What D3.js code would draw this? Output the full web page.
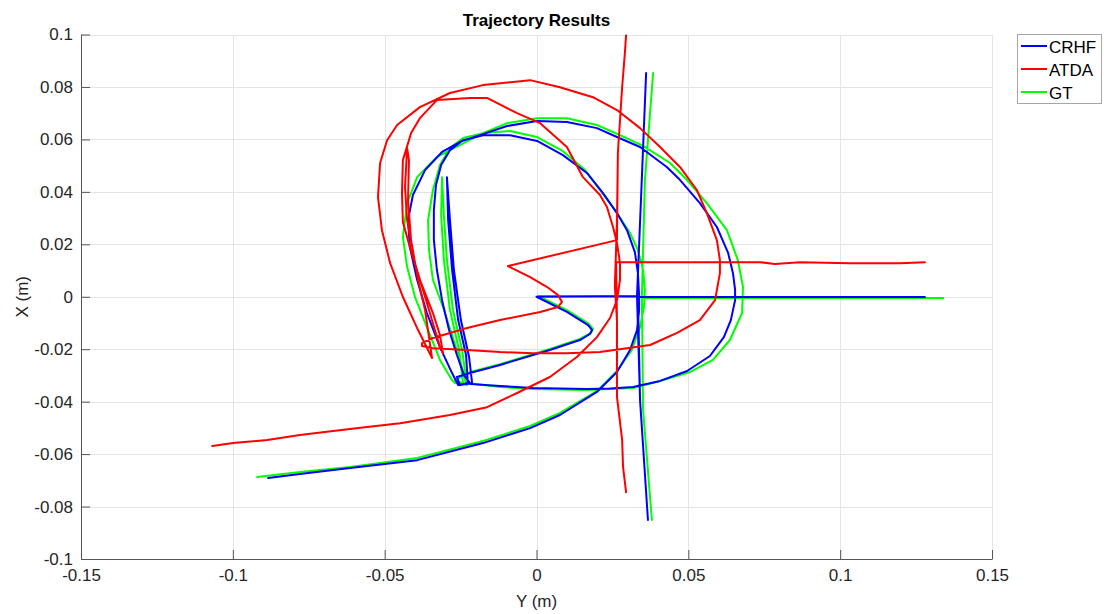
<!DOCTYPE html>
<html>
<head>
<meta charset="utf-8">
<script src="https://cdn.jsdelivr.net/npm/d3@7"></script>
<style>
  html, body { margin: 0; padding: 0; background: #fff; }
  svg { display: block; font-family: "Liberation Sans", Arial, Helvetica, sans-serif; }
</style>
</head>
<body>
<svg id="chart" width="1104" height="614"></svg>
<script>
// ---- data: points are [Y (m), X (m)] ----
const xTickValues = [-0.15, -0.1, -0.05, 0, 0.05, 0.1, 0.15];
const xTickLabels = ["-0.15", "-0.1", "-0.05", "0", "0.05", "0.1", "0.15"];
const yTickValues = [-0.1, -0.08, -0.06, -0.04, -0.02, 0, 0.02, 0.04, 0.06, 0.08, 0.1];
const yTickLabels = ["-0.1", "-0.08", "-0.06", "-0.04", "-0.02", "0", "0.02", "0.04", "0.06", "0.08", "0.1"];
const seriesNames = ["CRHF", "ATDA", "GT"];
const seriesColors = ["#0000ff", "#ff0000", "#00ff00"];

const crhf = [
  [-0.0884,-0.0691],[-0.0779,-0.0676],[-0.0614,-0.0653],[-0.0393,-0.0623],[-0.0176,-0.0558],
  [-0.0021,-0.0501],[0.0077,-0.0451],[0.0199,-0.0363],[0.0265,-0.0287],[0.0308,-0.0203],
  [0.0331,-0.0127],[0.0338,-0.0051],[0.0338,0.0003],[0.0334,0.0090],[0.0324,0.0170],
  [0.0298,0.0254],[0.0265,0.0319],[0.0219,0.0395],[0.0166,0.0472],[0.0087,0.0540],
  [0.0002,0.0594],[-0.0087,0.0616],[-0.0176,0.0616],[-0.0242,0.0597],[-0.0285,0.0559],
  [-0.0314,0.0502],[-0.0331,0.0426],[-0.0338,0.0331],[-0.0338,0.0216],[-0.0328,0.0102],
  [-0.0311,-0.0013],[-0.0288,-0.0127],[-0.0262,-0.0222],[-0.0239,-0.0299],[-0.0216,-0.0333],
  [-0.0120,-0.0340],[-0.0012,-0.0348],[0.0166,-0.0352],[0.0242,-0.0350],[0.0318,-0.0344],
  [0.0407,-0.0321],[0.0496,-0.0283],[0.0571,-0.0226],[0.0617,-0.0154],[0.0640,-0.0089],
  [0.0654,-0.0013],[0.0654,0.0026],[0.0647,0.0090],[0.0631,0.0167],[0.0594,0.0266],
  [0.0538,0.0357],[0.0473,0.0445],[0.0430,0.0494],[0.0341,0.0571],[0.0265,0.0609],
  [0.0199,0.0643],[0.0100,0.0666],[0.0002,0.0670],[-0.0097,0.0651],[-0.0176,0.0620],
  [-0.0245,0.0594],[-0.0311,0.0552],[-0.0367,0.0483],[-0.0407,0.0388],[-0.0423,0.0292],
  [-0.0417,0.0189],[-0.0393,0.0064],[-0.0361,-0.0062],[-0.0318,-0.0192],[-0.0278,-0.0291],
  [-0.0258,-0.0337],[-0.0226,-0.0329],[-0.0232,-0.0222],[-0.0258,-0.0089],[-0.0278,0.0102],
  [-0.0291,0.0292],[-0.0295,0.0456],[-0.0285,0.0292],[-0.0272,0.0102],[-0.0249,-0.0089],
  [-0.0222,-0.0230],[-0.0212,-0.0329],[-0.0252,-0.0337],[-0.0262,-0.0306],[-0.0219,-0.0291],
  [-0.0120,-0.0260],[0.0044,-0.0203],[0.0143,-0.0165],[0.0176,-0.0142],[0.0183,-0.0127],
  [0.0170,-0.0108],[0.0100,-0.0058],[0.0,0.0],[0.0331,0.0003],[0.0344,0.0369],
  [0.0361,0.0853],[0.0344,0.0369],[0.0331,0.0003],[0.0341,-0.0394],[0.0367,-0.0851],
  [0.0341,-0.0394],[0.0334,-0.0001],[0.1279,-0.0001]
];

const atda = [
  [-0.1068,-0.0569],[-0.0999,-0.0558],[-0.0887,-0.0546],[-0.0779,-0.0527],[-0.0670,-0.0512],
  [-0.0558,-0.0497],[-0.0449,-0.0482],[-0.0285,-0.0451],[-0.0163,-0.0421],[-0.0064,-0.0367],
  [0.0044,-0.0306],[0.0133,-0.0230],[0.0199,-0.0154],[0.0242,-0.0081],[0.0265,-0.0013],
  [0.0275,0.0064],[0.0275,0.0128],[0.0265,0.0205],[0.0252,0.0266],[0.0232,0.0342],
  [0.0209,0.0388],[0.0153,0.0456],[0.0100,0.0571],[0.0012,0.0662],[-0.0064,0.0700],
  [-0.0163,0.0758],[-0.0219,0.0758],[-0.0328,0.0750],[-0.0384,0.0681],[-0.0413,0.0624],
  [-0.0440,0.0521],[-0.0443,0.0395],[-0.0440,0.0285],[-0.0417,0.0189],[-0.0384,0.0064],
  [-0.0341,-0.0062],[-0.0318,-0.0146],[-0.0308,-0.0215],[-0.0318,-0.0192],[-0.0357,-0.0039],
  [-0.0400,0.0128],[-0.0426,0.0292],[-0.0433,0.0418],[-0.0426,0.0567],[-0.0420,0.0521],
  [-0.0423,0.0369],[-0.0413,0.0216],[-0.0390,0.0064],[-0.0367,-0.0051],[-0.0344,-0.0234],
  [-0.0390,-0.0127],[-0.0440,-0.0001],[-0.0482,0.0128],[-0.0509,0.0254],[-0.0522,0.0380],
  [-0.0515,0.0510],[-0.0492,0.0597],[-0.0459,0.0655],[-0.0384,0.0723],[-0.0285,0.0777],
  [-0.0176,0.0807],[-0.0021,0.0826],[0.0077,0.0799],[0.0186,0.0761],[0.0265,0.0712],
  [0.0341,0.0643],[0.0407,0.0571],[0.0473,0.0494],[0.0528,0.0407],[0.0561,0.0319],
  [0.0594,0.0216],[0.0604,0.0140],[0.0604,0.0090],[0.0588,-0.0013],[0.0538,-0.0089],
  [0.0463,-0.0138],[0.0374,-0.0184],[0.0209,-0.0211],[0.0100,-0.0215],[-0.0012,-0.0215],
  [-0.0120,-0.0211],[-0.0229,-0.0203],[-0.0341,-0.0196],[-0.0377,-0.0188],[-0.0377,-0.0177],
  [-0.0341,-0.0157],[-0.0229,-0.0119],[-0.0120,-0.0089],[0.0012,-0.0058],[0.0071,-0.0039],
  [0.0084,-0.0020],[0.0071,0.0006],[0.0035,0.0037],[-0.0021,0.0075],[-0.0094,0.0117],
  [0.0265,0.0216],[0.0268,0.0548],[0.0282,0.0799],[0.0291,0.0929],[0.0295,0.0998],
  [0.0291,0.0929],[0.0282,0.0799],[0.0268,0.0548],[0.0265,0.0292],[0.0258,0.0037],
  [0.0265,-0.0089],[0.0265,-0.0382],[0.0282,-0.0546],[0.0285,-0.0649],[0.0295,-0.0745],
  [0.0285,-0.0649],[0.0282,-0.0546],[0.0265,-0.0382],[0.0265,-0.0089],[0.0262,0.0132],
  [0.0538,0.0132],[0.0736,0.0132],[0.0785,0.0125],[0.0868,0.0132],[0.1032,0.0128],
  [0.1197,0.0128],[0.1279,0.0132]
];

const gt = [
  [-0.0920,-0.0687],[-0.0779,-0.0668],[-0.0614,-0.0649],[-0.0393,-0.0615],[-0.0176,-0.0550],
  [-0.0021,-0.0493],[0.0077,-0.0443],[0.0199,-0.0360],[0.0265,-0.0283],[0.0314,-0.0203],
  [0.0341,-0.0116],[0.0354,-0.0039],[0.0357,0.0026],[0.0351,0.0102],[0.0334,0.0178],
  [0.0308,0.0243],[0.0258,0.0331],[0.0209,0.0407],[0.0160,0.0483],[0.0087,0.0555],
  [0.0002,0.0609],[-0.0087,0.0632],[-0.0176,0.0624],[-0.0242,0.0605],[-0.0285,0.0567],
  [-0.0318,0.0502],[-0.0341,0.0407],[-0.0357,0.0292],[-0.0354,0.0178],[-0.0341,0.0064],
  [-0.0308,-0.0039],[-0.0278,-0.0146],[-0.0252,-0.0241],[-0.0232,-0.0329],
  [-0.0120,-0.0344],[-0.0012,-0.0352],[0.0166,-0.0356],[0.0318,-0.0348],[0.0407,-0.0321],
  [0.0505,-0.0287],[0.0581,-0.0241],[0.0637,-0.0165],[0.0677,-0.0062],[0.0680,0.0037],
  [0.0663,0.0140],[0.0627,0.0254],[0.0561,0.0357],[0.0496,0.0445],[0.0440,0.0510],
  [0.0351,0.0575],[0.0275,0.0616],[0.0199,0.0655],[0.0100,0.0681],[0.0002,0.0681],
  [-0.0097,0.0662],[-0.0176,0.0624],[-0.0328,0.0533],[-0.0393,0.0456],[-0.0426,0.0357],
  [-0.0440,0.0228],[-0.0426,0.0113],[-0.0400,-0.0001],[-0.0361,-0.0116],[-0.0318,-0.0241],
  [-0.0278,-0.0318],[-0.0268,-0.0329],[-0.0242,-0.0329],[-0.0255,-0.0203],[-0.0285,-0.0051],
  [-0.0305,0.0140],[-0.0314,0.0311],[-0.0311,0.0456],[-0.0305,0.0311],[-0.0295,0.0140],
  [-0.0275,-0.0051],[-0.0245,-0.0203],[-0.0229,-0.0337],[-0.0268,-0.0318],[-0.0219,-0.0287],
  [-0.0120,-0.0257],[0.0044,-0.0199],[0.0143,-0.0161],[0.0179,-0.0138],[0.0186,-0.0123],
  [0.0170,-0.0101],[0.0100,-0.0051],[0.0005,0.0003],[0.0347,-0.0001],[0.0357,0.0445],
  [0.0384,0.0853],[0.0357,0.0445],[0.0347,-0.0001],[0.0351,-0.0432],[0.0380,-0.0851],
  [0.0351,-0.0432],[0.0347,-0.0005],[0.1339,-0.0005]
];

const seriesData = [crhf, atda, gt];
const drawOrder = [2, 0, 1]; // GT underneath, then CRHF, then ATDA

// ---- layout ----
const svg = d3.select("#chart");
const plot = { left: 81, top: 34.5, right: 992, bottom: 559 };
const font = '"Liberation Sans", Arial, Helvetica, sans-serif';

const x = d3.scaleLinear().domain([-0.15, 0.15]).range([plot.left, plot.right]);
const y = d3.scaleLinear().domain([-0.1, 0.1]).range([plot.bottom, plot.top]);

svg.append("rect").attr("x", 0).attr("y", 0).attr("width", 1104).attr("height", 614).attr("fill", "#fff");

// grid
const grid = svg.append("g").attr("stroke", "#e4e4e4").attr("stroke-width", 1).attr("shape-rendering", "crispEdges");
grid.selectAll("line.gx").data(xTickValues).join("line")
  .attr("x1", d => Math.round(x(d)) + 0.5).attr("x2", d => Math.round(x(d)) + 0.5)
  .attr("y1", plot.top).attr("y2", plot.bottom);
grid.selectAll("line.gy").data(yTickValues).join("line")
  .attr("y1", d => Math.round(y(d)) + 0.5).attr("y2", d => Math.round(y(d)) + 0.5)
  .attr("x1", plot.left).attr("x2", plot.right);

// axes
const xAxis = d3.axisBottom(x).tickValues(xTickValues)
  .tickFormat((d, i) => xTickLabels[i]).tickSizeInner(-9).tickSizeOuter(0).tickPadding(10);
const yAxis = d3.axisLeft(y).tickValues(yTickValues)
  .tickFormat((d, i) => yTickLabels[i]).tickSizeInner(-9).tickSizeOuter(0).tickPadding(8);

const gx = svg.append("g").attr("transform", `translate(0,${plot.bottom})`).call(xAxis);
const gy = svg.append("g").attr("transform", `translate(${plot.left},0)`).call(yAxis);
[gx, gy].forEach(g => {
  g.select(".domain").attr("stroke", "#555").attr("stroke-width", 1);
  g.selectAll(".tick line").attr("stroke", "#555").attr("stroke-width", 1);
  g.selectAll(".tick text").attr("fill", "#262626").style("font-family", font).style("font-size", "17px");
});

svg.append("clipPath").attr("id", "clip").append("rect")
  .attr("x", plot.left).attr("y", plot.top).attr("width", plot.right - plot.left).attr("height", plot.bottom - plot.top);

// lines
const line = d3.line().x(d => x(d[0])).y(d => y(d[1]));
const lines = svg.append("g").attr("clip-path", "url(#clip)");
drawOrder.forEach(i => {
  lines.append("path").datum(seriesData[i])
    .attr("d", line)
    .attr("fill", "none")
    .attr("stroke", seriesColors[i])
    .attr("stroke-width", 2)
    .attr("stroke-linejoin", "round")
    .attr("stroke-linecap", "round");
});

// title and labels
svg.append("text").attr("x", (plot.left + plot.right) / 2).attr("y", 26)
  .attr("text-anchor", "middle").style("font-family", font).style("font-size", "17px")
  .style("font-weight", "bold").attr("fill", "#000").text("Trajectory Results");
svg.append("text").attr("x", (plot.left + plot.right) / 2).attr("y", 607)
  .attr("text-anchor", "middle").style("font-family", font).style("font-size", "17px")
  .attr("fill", "#262626").text("Y (m)");
svg.append("text").attr("transform", `translate(28,${(plot.top + plot.bottom) / 2}) rotate(-90)`)
  .attr("text-anchor", "middle").style("font-family", font).style("font-size", "17px")
  .attr("fill", "#262626").text("X (m)");

// legend
const leg = svg.append("g");
leg.append("rect").attr("x", 1017.5).attr("y", 34.5).attr("width", 84).attr("height", 69)
  .attr("fill", "#fff").attr("stroke", "#a6a6a6").attr("stroke-width", 1);
const rowY = [46, 69, 92];
seriesNames.forEach((name, i) => {
  leg.append("line").attr("x1", 1021).attr("x2", 1047).attr("y1", rowY[i]).attr("y2", rowY[i])
    .attr("stroke", seriesColors[i]).attr("stroke-width", 2);
  leg.append("text").attr("x", 1049).attr("y", rowY[i] + 6.5)
    .style("font-family", font).style("font-size", "17px").attr("fill", "#000").text(name);
});
</script>
</body>
</html>
